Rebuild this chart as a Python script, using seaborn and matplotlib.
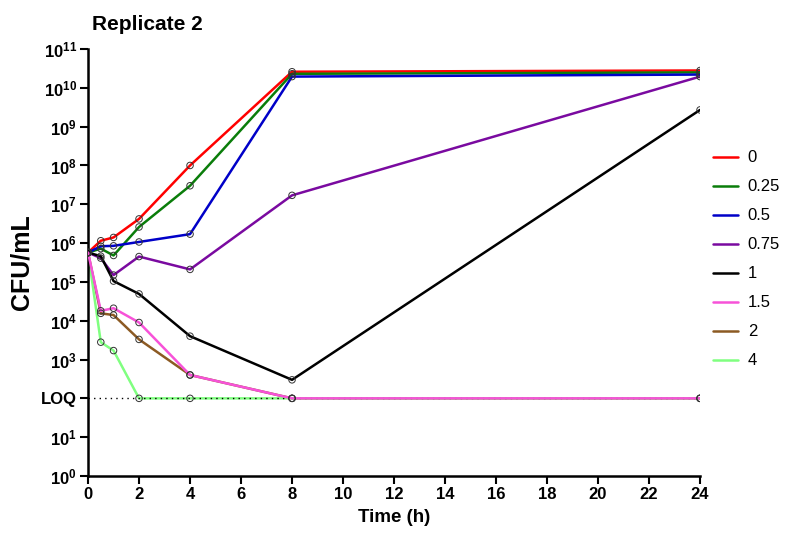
import numpy as np
import pandas as pd
import matplotlib
matplotlib.use("Agg")
from matplotlib import pyplot as plt
import seaborn as sns

sns.set_style("ticks")
plt.rcParams['font.family'] = ['Liberation Sans', 'DejaVu Sans']
plt.rcParams['mathtext.fontset'] = 'custom'
plt.rcParams['mathtext.rm'] = 'Liberation Sans:bold'
plt.rcParams['mathtext.bf'] = 'Liberation Sans:bold'
plt.rcParams['text.color'] = 'black'
plt.rcParams['axes.labelcolor'] = 'black'

# 数据
time = [0, 0.5, 1, 2, 4, 8, 24]
conc = ['0', '0.25', '0.5', '0.75', '1', '1.5', '2', '4']
cfu_0 = [5.7e5, 1.15e6, 1.4e6, 4.2e6, 1.0e8, 2.6e10, 2.8e10]
cfu_025 = [5.7e5, 7.2e5, 4.8e5, 2.6e6, 3.0e7, 2.3e10, 2.5e10]
cfu_05 = [5.7e5, 8.3e5, 8.5e5, 1.07e6, 1.7e6, 1.95e10, 2.2e10]
cfu_075 = [5.7e5, 4.1e5, 1.5e5, 4.5e5, 2.1e5, 1.7e7, 1.95e10]
cfu_1 = [5.7e5, 4.6e5, 1.05e5, 4.9e4, 4.0e3, 3.0e2, 2.7e9]
cfu_15 = [5.7e5, 1.8e4, 2.1e4, 9.0e3, 4.0e2, 1.0e2, 1.0e2]
cfu_2 = [5.7e5, 1.55e4, 1.4e4, 3.3e3, 4.0e2, 1.0e2, 1.0e2]
cfu_4 = [5.7e5, 2.8e3, 1.7e3, 1.0e2, 1.0e2, 1.0e2, 1.0e2]
loq = 1e2

colors = ['#ff0000', '#0a7d0a', '#0000c8', '#7a0aa0', '#000000', '#f752d8', '#8c5a23', '#80ff80']

series = [cfu_0, cfu_025, cfu_05, cfu_075, cfu_1, cfu_15, cfu_2, cfu_4]
df = pd.DataFrame({
    'Time': np.tile(time, len(conc)),
    'CFU': np.concatenate(series),
    'Conc': np.repeat(conc, len(time)),
})

fig = plt.figure(figsize=(7.91, 5.33), dpi=100)
ax = fig.add_axes([0.1113, 0.107, 0.7737, 0.801])

ax.plot([0, 24], [loq, loq], linestyle=(0, (1, 3)), color='black', linewidth=1, zorder=2.5)

sns.lineplot(data=df, x='Time', y='CFU', hue='Conc', hue_order=conc, palette=colors,
             linewidth=1.8, ax=ax, legend=True, zorder=2)
# 粉色线(1.5)放在最上面
ax.lines[1 + conc.index('1.5')].set_zorder(2.7)
sns.scatterplot(data=df, x='Time', y='CFU', facecolor='none', edgecolor='#333333',
                linewidth=0.7, s=22, ax=ax, legend=False, zorder=3)

ax.set_yscale('log')
ax.set_ylim(1, 1e11)
ax.set_xlim(0, 24)
ax.set_xticks(range(0, 25, 2))
ax.set_xticklabels([str(v) for v in range(0, 25, 2)], fontweight='bold', fontsize=12)
yt = [10.0 ** k for k in range(12)]
ylabels = [r'$\mathbf{10^{%d}}$' % k if k != 2 else 'LOQ' for k in range(12)]
ax.set_yticks(yt)
ax.set_yticklabels(ylabels, fontsize=12, fontweight='bold')
ax.yaxis.set_minor_locator(matplotlib.ticker.NullLocator())
ax.tick_params(axis='both', which='major', length=6, width=1.5, direction='out', pad=2,
               colors='black', labelcolor='black')

for s in ['top', 'right']:
    ax.spines[s].set_visible(False)
for s in ['left', 'bottom']:
    ax.spines[s].set_linewidth(1.8)
    ax.spines[s].set_color('black')

ax.set_xlabel('Time (h)', fontsize=13.5, fontweight='bold', labelpad=5)
ax.set_ylabel('CFU/mL', fontsize=18, fontweight='bold', labelpad=5)
ax.set_title('Replicate 2', loc='left', fontsize=15, fontweight='bold', pad=14, x=0.006)

handles, labels = ax.get_legend_handles_labels()
ax.legend(handles, labels, loc='upper left', bbox_to_anchor=(0.882, 0.746),
          bbox_transform=fig.transFigure, frameon=False, fontsize=12,
          handlelength=1.5, handletextpad=0.6, labelspacing=0.84)

plt.savefig('out.png', dpi=100)
